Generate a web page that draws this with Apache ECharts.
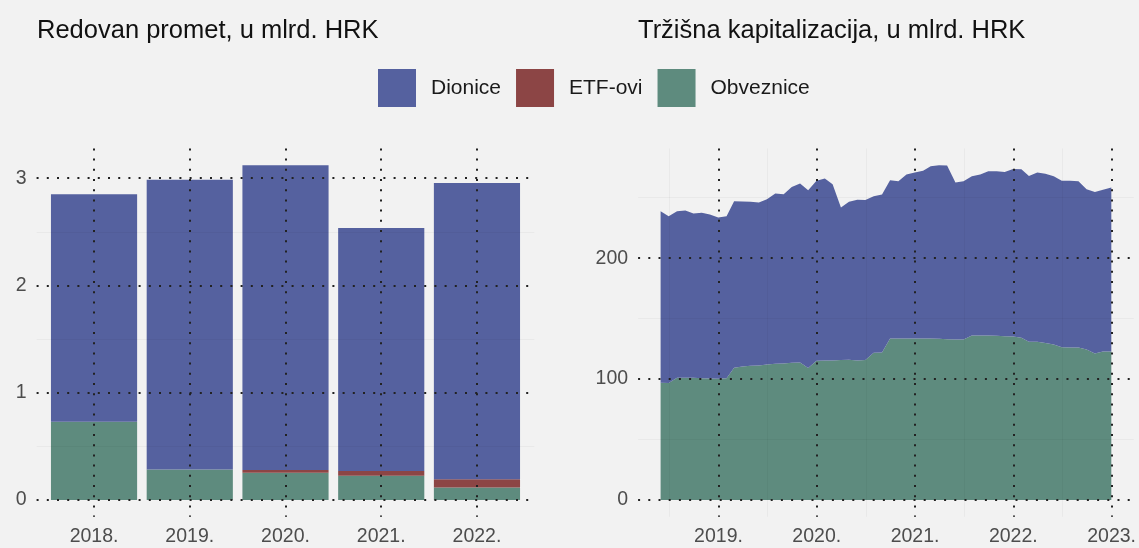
<!DOCTYPE html>
<html>
<head>
<meta charset="utf-8">
<script src="https://cdn.jsdelivr.net/npm/echarts@6/dist/echarts.min.js"></script>
<style>
  html, body { margin: 0; padding: 0; background: #f2f2f2; }
  #chart { width: 1139px; height: 548px; }
</style>
</head>
<body>
<div id="chart"></div>
<script>
// lijevo: redovan promet po godinama (mlrd. HRK)
const years = ['2018.', '2019.', '2020.', '2021.', '2022.'];
const prometDionice = [2.12, 2.70, 2.84, 2.265, 2.76];
const prometEtf = [0, 0, 0.025, 0.043, 0.077];
const prometObveznice = [0.73, 0.286, 0.255, 0.227, 0.118];

// desno: trzisna kapitalizacija, kraj mjeseca
const months = [
  '2018-05', '2018-06', '2018-07', '2018-08', '2018-09', '2018-10', '2018-11', '2018-12',
  '2019-01', '2019-02', '2019-03', '2019-04', '2019-05', '2019-06', '2019-07', '2019-08', '2019-09', '2019-10', '2019-11', '2019-12',
  '2020-01', '2020-02', '2020-03', '2020-04', '2020-05', '2020-06', '2020-07', '2020-08', '2020-09', '2020-10', '2020-11', '2020-12',
  '2021-01', '2021-02', '2021-03', '2021-04', '2021-05', '2021-06', '2021-07', '2021-08', '2021-09', '2021-10', '2021-11', '2021-12',
  '2022-01', '2022-02', '2022-03', '2022-04', '2022-05', '2022-06', '2022-07', '2022-08', '2022-09', '2022-10', '2022-11', '2022-12'
];
const kapObveznice = [
  96.9, 96.7, 101.1, 101.1, 101.1, 100.8, 100.6, 100.3,
  100.8, 109.4, 110.5, 111.0, 111.3, 112.1, 112.7, 113.0, 113.5, 113.7, 109.1, 115.2,
  115.4, 115.4, 115.7, 116.0, 115.4, 115.7, 121.8, 122.0, 133.6, 133.6, 133.6, 133.6,
  133.6, 133.6, 133.3, 133.0, 132.8, 132.8, 136.1, 136.1, 136.1, 135.8, 135.5, 135.3,
  134.2, 130.9, 130.9, 129.8, 128.7, 126.4, 126.2, 126.2, 124.5, 121.2, 122.9, 122.9
];
const kapDionice = [
  141.9, 138.0, 137.7, 138.3, 135.8, 136.7, 135.5, 133.3,
  133.9, 137.7, 136.3, 135.6, 134.7, 136.7, 140.7, 139.9, 145.4, 148.0, 147.1, 148.7,
  150.4, 145.8, 126.2, 130.6, 132.8, 132.3, 129.4, 130.7, 130.9, 130.0, 135.5, 137.2,
  138.6, 142.4, 143.6, 143.6, 129.7, 130.8, 131.7, 133.0, 135.8, 136.1, 135.8, 138.5,
  139.4, 137.1, 139.9, 139.9, 139.1, 137.5, 137.7, 137.4, 132.5, 133.6, 133.6, 135.5
];

const colors = { dionice: '#55619f', etf: '#8c4545', obveznice: '#5e8b7e' };

// kraj mjeseca kao decimalna godina
const toYear = (ym) => {
  const [y, m] = ym.split('-').map(Number);
  const start = Date.UTC(y, 0, 1);
  const next = Date.UTC(y + 1, 0, 1);
  return y + (Date.UTC(y, m, 0) - start) / (next - start);
};
const xMonths = months.map(toYear);

const isWhole = (v) => Math.abs(v - Math.round(v)) < 1e-6;

const dotted = { color: '#222', width: 2, type: [2, 8.2] };
const faint = { color: 'rgba(0,0,0,0.035)', width: 1 };
const labelStyle = { color: '#4d4d4d', fontSize: 19.5, fontFamily: 'Liberation Sans, Arial' };

const chart = echarts.init(document.getElementById('chart'));

// vrijednost prva u paru -> stack ide po y osi
const barSeries = (name, values, color) => ({
  name, type: 'bar', stack: 'promet', xAxisIndex: 0, yAxisIndex: 0,
  barWidth: '90%', itemStyle: { color },
  encode: { x: 1, y: 0 },
  data: values.map((v, i) => [v, i + 1])
});
const areaSeries = (name, values, color) => ({
  name, type: 'line', stack: 'kap', xAxisIndex: 1, yAxisIndex: 1,
  symbol: 'none', lineStyle: { width: 0 }, color,
  areaStyle: { color, opacity: 1 },
  encode: { x: 1, y: 0 },
  data: values.map((v, i) => [v, xMonths[i]])
});

chart.setOption({
  backgroundColor: '#f2f2f2',
  animation: false,
  textStyle: { fontFamily: 'Liberation Sans, Arial' },
  title: [
    { text: 'Redovan promet, u mlrd. HRK', left: 37, top: 18, padding: 0,
      textStyle: { fontSize: 25.5, fontWeight: 'normal', color: '#111', lineHeight: 26 } },
    { text: 'Tržišna kapitalizacija, u mlrd. HRK', left: 638, top: 18, padding: 0,
      textStyle: { fontSize: 25.5, fontWeight: 'normal', color: '#111', lineHeight: 26 } }
  ],
  legend: {
    data: ['Dionice', 'ETF-ovi', 'Obveznice'],
    left: 378, top: 69, padding: 0,
    icon: 'rect', itemWidth: 38, itemHeight: 38, itemGap: 15,
    textStyle: { fontSize: 21, color: '#1a1a1a', padding: [0, 0, 0, 10] }
  },
  grid: [
    { left: 36.6, top: 148.4, right: 604.6, bottom: 31.2 },
    { left: 638.1, top: 148.4, right: 5.1, bottom: 31.2 }
  ],
  xAxis: [
    {
      type: 'value', gridIndex: 0, min: 0.4, max: 5.6, z: 5,
      axisLine: { show: false, onZero: false }, axisTick: { show: false },
      axisLabel: Object.assign({ margin: 10, showMinLabel: false, showMaxLabel: false,
        formatter: (v) => (isWhole(v) ? years[Math.round(v) - 1] || '' : '') }, labelStyle),
      splitLine: { show: true, showMinLine: false, showMaxLine: false, lineStyle: dotted }
    },
    {
      type: 'value', gridIndex: 1, min: 2018.182, max: 2023.226, z: 5,
      axisLine: { show: false, onZero: false }, axisTick: { show: false },
      axisLabel: Object.assign({ margin: 10, showMinLabel: false, showMaxLabel: false,
        formatter: (v) => (isWhole(v) ? Math.round(v) + '.' : '') }, labelStyle),
      splitLine: { show: true, showMinLine: false, showMaxLine: false, lineStyle: dotted },
      minorTick: { show: false, splitNumber: 2 },
      minorSplitLine: { show: true, lineStyle: faint }
    }
  ],
  yAxis: [
    {
      type: 'value', gridIndex: 0, min: -0.156, max: 3.278, splitNumber: 3, z: 5,
      axisLine: { show: false, onZero: false }, axisTick: { show: false },
      axisLabel: Object.assign({ margin: 10, showMinLabel: false, showMaxLabel: false,
        formatter: (v) => (isWhole(v) ? String(Math.round(v)) : '') }, labelStyle),
      splitLine: { show: true, showMinLine: false, showMaxLine: false, lineStyle: dotted },
      minorTick: { show: false, splitNumber: 2 },
      minorSplitLine: { show: true, lineStyle: faint }
    },
    {
      type: 'value', gridIndex: 1, min: -13.85, max: 290.75, splitNumber: 3, z: 5,
      axisLine: { show: false, onZero: false }, axisTick: { show: false },
      axisLabel: Object.assign({ margin: 10, showMinLabel: false, showMaxLabel: false,
        formatter: (v) => (Math.abs(v % 100) < 1e-6 ? String(Math.round(v)) : '') }, labelStyle),
      splitLine: { show: true, showMinLine: false, showMaxLine: false, lineStyle: dotted },
      minorTick: { show: false, splitNumber: 2 },
      minorSplitLine: { show: true, lineStyle: faint }
    }
  ],
  series: [
    barSeries('Obveznice', prometObveznice, colors.obveznice),
    barSeries('ETF-ovi', prometEtf, colors.etf),
    barSeries('Dionice', prometDionice, colors.dionice),
    areaSeries('Obveznice', kapObveznice, colors.obveznice),
    areaSeries('Dionice', kapDionice, colors.dionice)
  ]
});
</script>
</body>
</html>
